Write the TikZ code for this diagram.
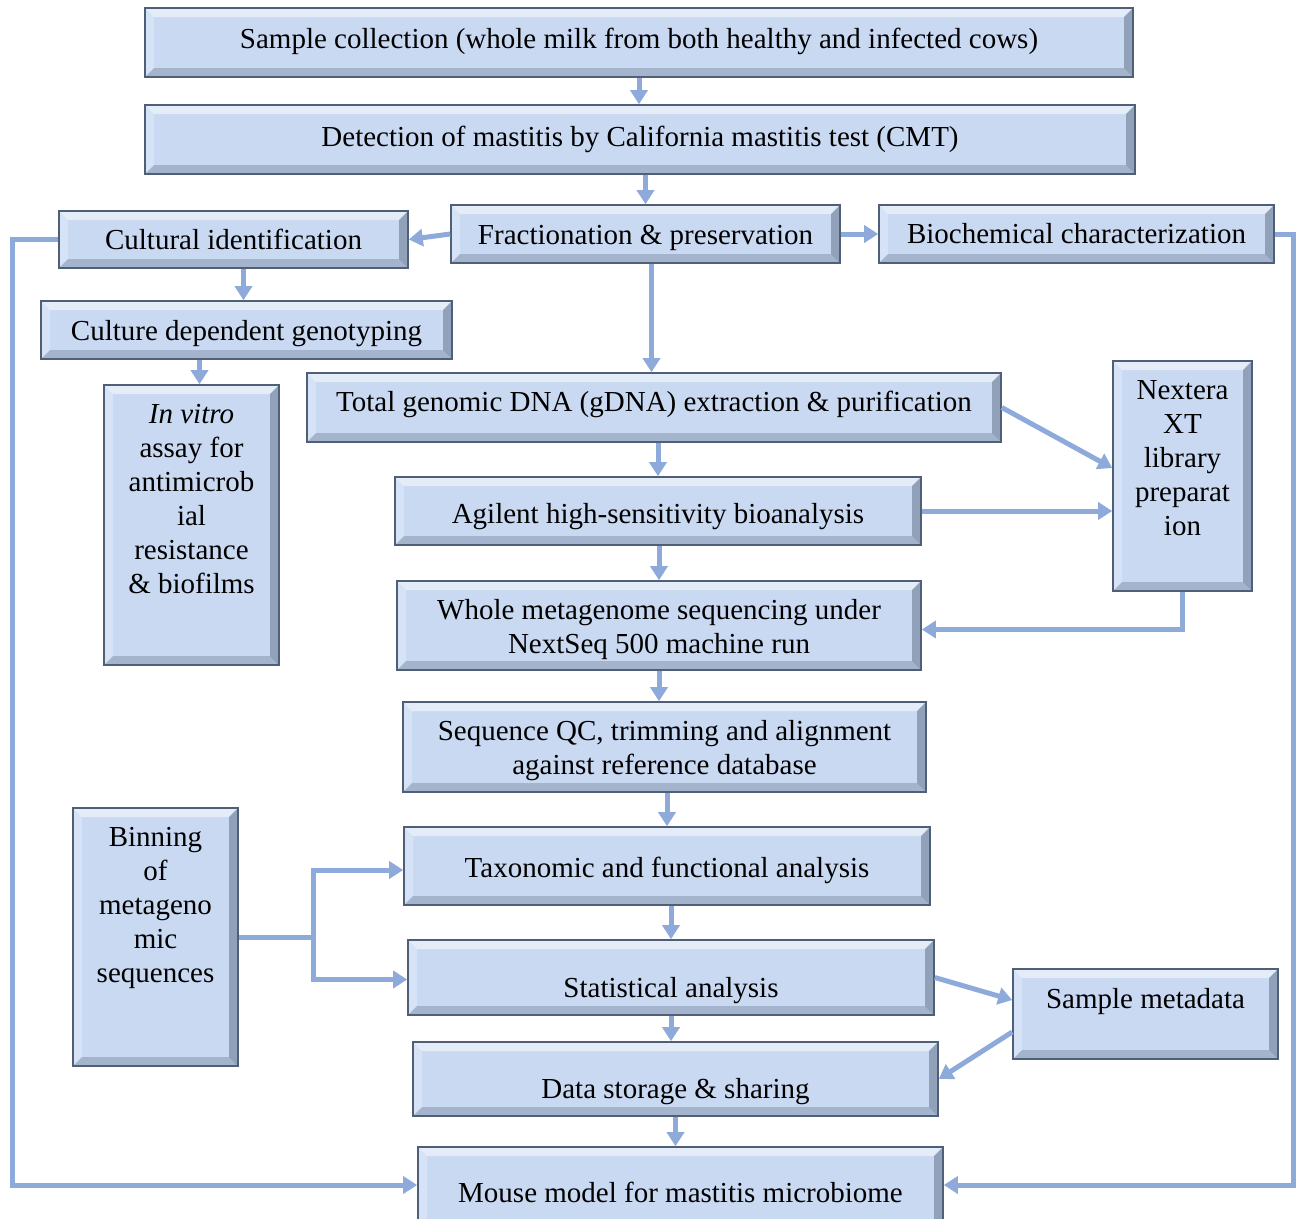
\documentclass[tikz,border=0pt]{standalone}
\usepackage{fontspec}
\setmainfont{Liberation Serif}
\usepackage{tikz}
\usetikzlibrary{arrows.meta,calc}

\definecolor{boxfill}{HTML}{C9D9F2}
\definecolor{boxline}{HTML}{4F5F78}
\definecolor{flowcol}{HTML}{8EAADB}

\newcommand{\topstrut}{\rule{0pt}{33pt}}

\tikzset{
  box/.style={draw=boxline, line width=1.6pt, fill=boxfill, inner sep=0pt,
    align=center, font=\fontsize{29}{34}\selectfont,
    path picture={
      \fill[white,opacity=.5] (path picture bounding box.north west) -- (path picture bounding box.north east)
        -- ([shift={(-9pt,-9pt)}]path picture bounding box.north east) -- ([shift={(9pt,-9pt)}]path picture bounding box.north west) -- cycle;
      \fill[white,opacity=.25] (path picture bounding box.north west) -- (path picture bounding box.south west)
        -- ([shift={(9pt,9pt)}]path picture bounding box.south west) -- ([shift={(9pt,-9pt)}]path picture bounding box.north west) -- cycle;
      \fill[boxline,opacity=.3] (path picture bounding box.south west) -- (path picture bounding box.south east)
        -- ([shift={(-9pt,9pt)}]path picture bounding box.south east) -- ([shift={(9pt,9pt)}]path picture bounding box.south west) -- cycle;
      \fill[boxline,opacity=.45] (path picture bounding box.north east) -- (path picture bounding box.south east)
        -- ([shift={(-9pt,9pt)}]path picture bounding box.south east) -- ([shift={(-9pt,-9pt)}]path picture bounding box.north east) -- cycle;
    }},
  flow/.style={draw=flowcol, line width=5pt, -{Triangle[width=17pt,length=14pt]}},
}

\begin{document}
\begin{tikzpicture}[x=1pt, y=-1pt]

    \clip (0,0) rectangle (1303,1218);

    % top of the pipeline
    \node[box, minimum width=988pt, minimum height=69pt, text height=20pt, text depth=9pt] (sample) at (639,42.5)
        {Sample collection (whole milk from both healthy and infected cows)};
    \node[box, minimum width=990pt, minimum height=69pt] (detect) at (640,139.5)
        {Detection of mastitis by California mastitis test (CMT)};
    \node[box, minimum width=349pt, minimum height=57pt] (cult) at (233.5,239.5) {Cultural identification};
    \node[box, minimum width=389pt, minimum height=58pt, text height=26pt, text depth=6pt] (fract) at (645.5,234) {Fractionation \& preservation};
    \node[box, minimum width=395pt, minimum height=58pt] (bio) at (1076.5,234) {Biochemical characterization};
    \node[box, minimum width=411pt, minimum height=58pt, text height=26pt, text depth=6pt] (geno) at (246.5,330) {Culture dependent genotyping};
    \node[box, minimum width=175pt, minimum height=280pt] (invitro) at (191.5,525)
        {\parbox[c][270pt][t]{170pt}{\centering\topstrut\textit{In vitro}\\ assay for\\ antimicrob\\ ial\\ resistance\\ \& biofilms}};

    % sequencing
    \node[box, minimum width=694pt, minimum height=69pt, text height=20pt, text depth=12pt] (dna) at (654,407.5)
        {Total genomic DNA (gDNA) extraction \& purification};
    \node[box, minimum width=139pt, minimum height=230pt] (next) at (1182.5,476)
        {\parbox[c][220pt][t]{134pt}{\centering\topstrut Nextera\\ XT\\ library\\ preparat\\ ion}};
    \node[box, minimum width=526pt, minimum height=68pt, text height=30pt, text depth=6pt] (agil) at (658,511) {Agilent high-sensitivity bioanalysis};
    \node[box, minimum width=524pt, minimum height=89pt] (wms) at (659,625.5)
        {\parbox[c][79pt][t]{519pt}{\centering\topstrut Whole metagenome sequencing under\\ NextSeq 500 machine run}};
    \node[box, minimum width=523pt, minimum height=90pt] (qc) at (664.5,747)
        {\parbox[c][80pt][t]{518pt}{\centering\topstrut Sequence QC, trimming and alignment\\ against reference database}};

    % analysis
    \node[box, minimum width=165pt, minimum height=258pt] (bin) at (155.5,937)
        {\parbox[c][248pt][t]{160pt}{\centering\topstrut Binning\\ of\\ metageno\\ mic\\ sequences}};
    \node[box, minimum width=526pt, minimum height=78pt, text height=28pt, text depth=6pt] (tax) at (667,866) {Taxonomic and functional analysis};
    \node[box, minimum width=526pt, minimum height=75pt, text height=46pt, text depth=6pt] (stat) at (671,977.5) {Statistical analysis};
    \node[box, minimum width=265pt, minimum height=90pt, text height=20pt, text depth=32pt] (meta) at (1145.5,1014) {Sample metadata};
    \node[box, minimum width=525pt, minimum height=74pt, text height=44pt, text depth=6pt] (data) at (675.5,1079) {Data storage \& sharing};
    \node[box, minimum width=525pt, minimum height=90pt] (mouse) at (680.5,1192) {Mouse model for mastitis microbiome};

    \coordinate (fork) at ($(bin.east)+(75,0)$);
    \coordinate (lrail) at (12,1185);
    \coordinate (rrail) at (1293,1185);

    % connectors
    \draw[flow] (sample.south) -- (sample.south |- detect.north);
    \draw[flow] (fract.north |- detect.south) -- (fract.north);
    \draw[flow] (fract.west) -- (cult.east);
    \draw[flow] (fract.east) -- (bio.west);
    \draw[flow] ([xshift=10pt]cult.south) -- ([xshift=10pt]cult.south |- geno.north);
    \draw[flow] ([xshift=8pt]invitro.north |- geno.south) -- ([xshift=8pt]invitro.north);
    \draw[flow] ([xshift=6pt]fract.south) -- ([xshift=6pt]fract.south |- dna.north);
    \draw[flow] (dna.east) -- ([yshift=8pt]next.west);
    \draw[flow] (agil.north |- dna.south) -- (agil.north);
    \draw[flow] (agil.east) -- (next.west |- agil.east);
    \draw[flow] (wms.north |- agil.south) -- (wms.north);
    \draw[flow] (next.south) |- ([yshift=-4pt]wms.east);
    \draw[flow] (wms.south) -- (wms.south |- qc.north);
    \draw[flow] (tax.north |- qc.south) -- (tax.north);
    \draw[flowcol, line width=5pt] (bin.east) -- (fork);
    \draw[flow] (fork) |- ([yshift=-4pt]tax.west);
    \draw[flow] (fork) |- ([yshift=-2pt]stat.west);
    \draw[flow] (stat.north |- tax.south) -- (stat.north);
    \draw[flow] (stat.east) -- ([yshift=14pt]meta.west);
    \draw[flow] ([yshift=-18pt]meta.west) -- (data.east);
    \draw[flow] (stat.south) -- (stat.south |- data.north);
    \draw[flow] (data.south) -- (data.south |- mouse.north);
    \draw[flow] (cult.west) -| (lrail) -- (lrail -| mouse.west);
    \draw[flow] (bio.east) -| (rrail) -- (rrail -| mouse.east);

\end{tikzpicture}
\end{document}
